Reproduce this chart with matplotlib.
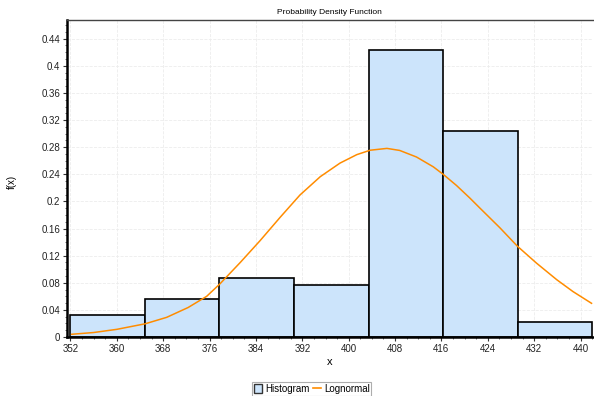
import numpy as np
import matplotlib
matplotlib.use('Agg')
import matplotlib.pyplot as plt
from matplotlib.ticker import MultipleLocator, FuncFormatter
from matplotlib.patches import Patch
from matplotlib.lines import Line2D

# histogram bins (edges) and heights
bin_edges = [352.0, 364.86, 377.71, 390.57, 403.43, 416.29, 429.14, 442.0]
bin_heights = [0.033, 0.0556, 0.0875, 0.0767, 0.4234, 0.304, 0.0221]

# fitted lognormal curve
curve_x = [352.2, 356.0, 360.0, 364.9, 368.6, 372.3, 375.5, 377.8, 381.3, 384.7,
           388.2, 391.6, 395.1, 398.5, 401.4, 403.7, 406.6, 408.8, 411.7, 414.6,
           416.3, 418.6, 420.9, 422.6, 426.1, 429.1, 432.4, 435.9, 438.7, 441.9]
curve_y = [0.004, 0.0066, 0.0113, 0.0195, 0.029, 0.0435, 0.060, 0.0785, 0.110, 0.1420,
           0.1768, 0.2095, 0.2365, 0.2565, 0.2690, 0.2755, 0.2782, 0.2752, 0.2655, 0.2510,
           0.2400, 0.2235, 0.2050, 0.1905, 0.1610, 0.1340, 0.1090, 0.0845, 0.0670, 0.0497]

plt.rcParams['font.family'] = ['Liberation Sans', 'DejaVu Sans']

fig = plt.figure(figsize=(5.94, 3.96), dpi=100)
ax = fig.add_axes([0.1128, 0.149, 0.885, 0.8005])

bar_color = '#cce4fb'
widths = np.diff(bin_edges)
ax.bar(bin_edges[:-1], bin_heights, width=widths, align='edge',
       color=bar_color, edgecolor='black', linewidth=1.2, zorder=2)
ax.plot(curve_x, curve_y, color='#ff8c00', linewidth=1.1, zorder=3,
        solid_joinstyle='round')

ax.set_xlim(351.4, 442.1)
ax.set_ylim(0, 0.4676)

ax.xaxis.set_major_locator(MultipleLocator(8))
ax.xaxis.set_minor_locator(MultipleLocator(2))
ax.yaxis.set_major_locator(MultipleLocator(0.04))
ax.yaxis.set_minor_locator(MultipleLocator(0.01))
ax.yaxis.set_major_formatter(FuncFormatter(lambda v, p: '%g' % round(v, 2)))

ax.tick_params(axis='both', which='major', labelsize=7, length=3, width=0.8, pad=2,
               colors='#333333', labelcolor='#222222')
ax.tick_params(axis='both', which='minor', length=1.5, width=0.6, colors='#555555')

ax.grid(True, which='major', color='#ececec', linestyle='--', linewidth=0.6, zorder=0)
ax.set_axisbelow(True)

ax.spines['left'].set_linewidth(1.8)
ax.spines['bottom'].set_linewidth(1.8)
ax.spines['top'].set_linewidth(1.0)
ax.spines['top'].set_color('#444444')
ax.spines['right'].set_visible(False)

ax.set_title('Probability Density Function', fontsize=6, pad=4)
ax.set_xlabel('x', fontsize=8, labelpad=2)
fig.text(0.02, 0.54, 'f(x)', rotation=90, fontsize=7, ha='center', va='center')

handles = [Patch(facecolor=bar_color, edgecolor='#333333', linewidth=1.0),
           Line2D([0], [0], color='#ff8c00', linewidth=1.2)]
leg = fig.legend(handles, ['Histogram', 'Lognormal'], loc='center',
                 bbox_to_anchor=(0.525, 0.018), ncol=2, fontsize=7, frameon=True,
                 fancybox=False, edgecolor='#999999', handlelength=0.8, handleheight=1.0,
                 handletextpad=0.3, columnspacing=0.4, borderpad=0.2, borderaxespad=0)
leg.get_frame().set_linewidth(0.8)

fig.savefig('out.png', dpi=100)
